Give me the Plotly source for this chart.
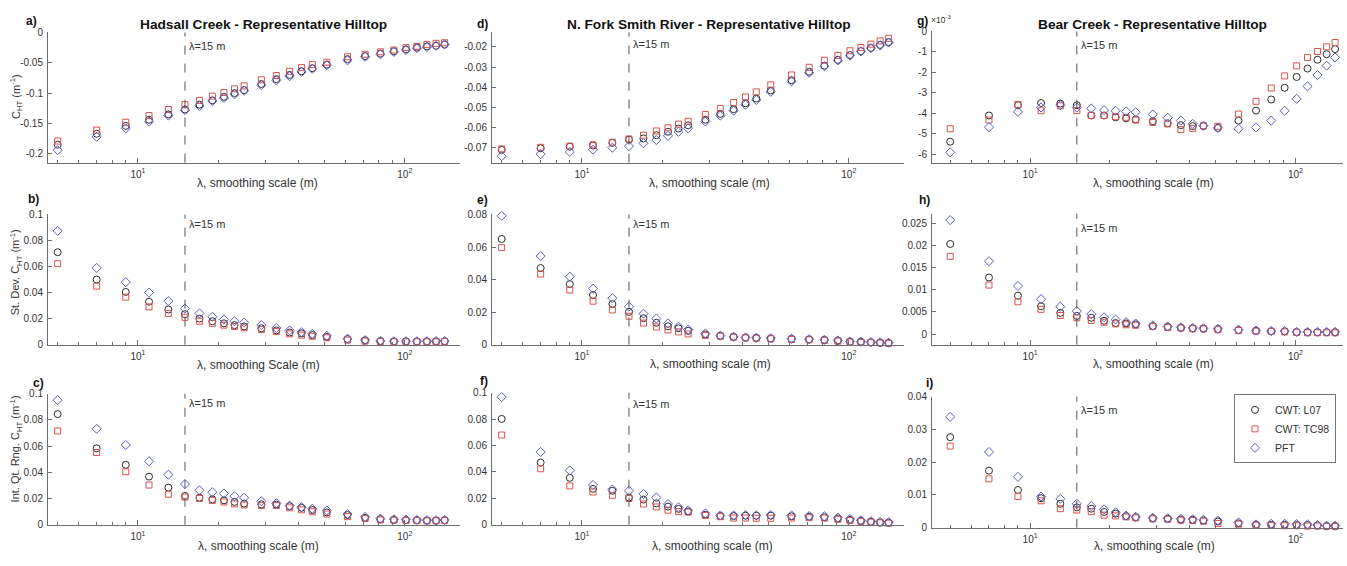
import math
import plotly.graph_objects as go

# ---------------- data ----------------
LAMBDA = [5, 7, 9, 11, 13, 15, 17, 19, 21, 23, 25, 29, 33, 37, 41, 45, 51, 61, 71, 81, 91, 101, 111, 121, 131, 141]
LAMBDA_CUT = 15
SERIES_NAMES = ["CWT: L07", "CWT: TC98", "PFT"]

# a) Hadsall Creek - mean C_HT
A_L07 = [-0.185, -0.167, -0.154, -0.144, -0.135, -0.127, -0.119, -0.112, -0.106, -0.100, -0.095, -0.085, -0.077, -0.070, -0.064, -0.059, -0.053, -0.044, -0.039, -0.035, -0.031, -0.028, -0.025, -0.023, -0.022, -0.020]
A_TC98 = [-0.179, -0.161, -0.148, -0.137, -0.127, -0.119, -0.112, -0.105, -0.099, -0.093, -0.088, -0.078, -0.071, -0.064, -0.058, -0.053, -0.049, -0.040, -0.036, -0.032, -0.029, -0.025, -0.023, -0.020, -0.018, -0.017]
A_PFT = [-0.194, -0.172, -0.158, -0.147, -0.137, -0.128, -0.121, -0.113, -0.108, -0.102, -0.096, -0.087, -0.079, -0.072, -0.065, -0.060, -0.054, -0.046, -0.040, -0.036, -0.032, -0.029, -0.026, -0.024, -0.022, -0.020]
# b) Hadsall Creek - st. dev.
B_L07 = [0.071, 0.050, 0.0405, 0.033, 0.027, 0.0234, 0.020, 0.018, 0.0164, 0.015, 0.014, 0.0126, 0.011, 0.0093, 0.0086, 0.0073, 0.006, 0.0043, 0.0033, 0.0028, 0.0025, 0.0025, 0.0025, 0.0025, 0.0025, 0.0026]
B_TC98 = [0.0622, 0.045, 0.0365, 0.029, 0.024, 0.021, 0.018, 0.0164, 0.015, 0.014, 0.013, 0.0116, 0.010, 0.0083, 0.0073, 0.0065, 0.0053, 0.0035, 0.0028, 0.0025, 0.0022, 0.0022, 0.0022, 0.0022, 0.0022, 0.0023]
B_PFT = [0.0874, 0.059, 0.048, 0.040, 0.0335, 0.0277, 0.024, 0.0214, 0.0194, 0.018, 0.017, 0.015, 0.0128, 0.011, 0.0096, 0.0083, 0.0068, 0.0045, 0.0035, 0.0028, 0.0026, 0.0026, 0.0026, 0.0026, 0.0027, 0.0028]
# c) Hadsall Creek - interquartile range
C_L07 = [0.0844, 0.0583, 0.0457, 0.0367, 0.0283, 0.022, 0.0206, 0.0194, 0.0186, 0.0174, 0.0161, 0.0156, 0.0154, 0.0141, 0.0129, 0.0112, 0.0094, 0.0074, 0.0052, 0.0042, 0.0037, 0.0035, 0.0035, 0.0032, 0.0032, 0.0035]
C_TC98 = [0.0715, 0.0551, 0.0404, 0.0303, 0.0233, 0.0211, 0.0201, 0.0186, 0.0174, 0.0159, 0.0151, 0.0146, 0.0146, 0.0129, 0.0114, 0.0099, 0.0082, 0.0062, 0.0047, 0.0037, 0.0035, 0.0032, 0.0032, 0.003, 0.003, 0.0032]
C_PFT = [0.095, 0.0732, 0.0608, 0.0484, 0.0382, 0.031, 0.0263, 0.0248, 0.0238, 0.0218, 0.0206, 0.0179, 0.0164, 0.0146, 0.0134, 0.0122, 0.0109, 0.0082, 0.006, 0.0047, 0.0042, 0.004, 0.0037, 0.0035, 0.0035, 0.0037]
# d) N. Fork Smith River - mean C_HT
D_L07 = [-0.0711, -0.0703, -0.0695, -0.0689, -0.0676, -0.066, -0.0654, -0.0638, -0.0621, -0.0605, -0.0589, -0.0561, -0.0532, -0.0509, -0.048, -0.0456, -0.0416, -0.0365, -0.0323, -0.0293, -0.0264, -0.024, -0.0221, -0.0205, -0.019, -0.0176]
D_TC98 = [-0.0706, -0.0698, -0.0692, -0.0686, -0.0673, -0.0657, -0.0638, -0.0617, -0.0601, -0.0583, -0.0569, -0.0535, -0.0505, -0.0476, -0.0448, -0.0423, -0.0388, -0.0339, -0.0301, -0.0266, -0.0242, -0.0219, -0.0203, -0.0186, -0.017, -0.0157]
D_PFT = [-0.0742, -0.0732, -0.0721, -0.071, -0.07, -0.0692, -0.0678, -0.0662, -0.0641, -0.0621, -0.0604, -0.057, -0.0541, -0.0516, -0.0487, -0.0463, -0.0423, -0.0371, -0.0328, -0.0296, -0.0267, -0.0243, -0.0222, -0.0206, -0.0192, -0.0178]
# e) N. Fork Smith River - st. dev.
E_L07 = [0.0651, 0.0472, 0.0373, 0.0306, 0.025, 0.0202, 0.0163, 0.0135, 0.0113, 0.0101, 0.0085, 0.0062, 0.0054, 0.0048, 0.0044, 0.0042, 0.0038, 0.0036, 0.0032, 0.003, 0.0026, 0.0018, 0.0018, 0.0014, 0.0012, 0.001]
E_TC98 = [0.0598, 0.0435, 0.0337, 0.0268, 0.0214, 0.0175, 0.0133, 0.0109, 0.0091, 0.0079, 0.0066, 0.0058, 0.0052, 0.0046, 0.0042, 0.004, 0.0036, 0.0032, 0.003, 0.0026, 0.0022, 0.0016, 0.0014, 0.0012, 0.001, 0.0008]
E_PFT = [0.0794, 0.0546, 0.0419, 0.0345, 0.0286, 0.0234, 0.0191, 0.0161, 0.0131, 0.0111, 0.0093, 0.0069, 0.0056, 0.0048, 0.0044, 0.0042, 0.004, 0.0036, 0.0034, 0.003, 0.0026, 0.002, 0.0018, 0.0016, 0.0014, 0.0012]
# f) N. Fork Smith River - interquartile range
F_L07 = [0.0801, 0.0471, 0.0355, 0.0272, 0.0257, 0.0206, 0.0191, 0.0162, 0.0137, 0.012, 0.010, 0.0076, 0.0066, 0.0066, 0.0069, 0.0069, 0.0069, 0.0064, 0.0061, 0.0056, 0.0047, 0.0037, 0.0029, 0.0022, 0.0017, 0.0015]
F_TC98 = [0.0679, 0.0424, 0.0294, 0.0248, 0.0223, 0.0199, 0.0157, 0.0135, 0.011, 0.010, 0.0096, 0.0071, 0.0061, 0.0051, 0.0051, 0.0049, 0.0049, 0.0051, 0.0054, 0.0051, 0.0042, 0.0032, 0.0025, 0.002, 0.0015, 0.0012]
F_PFT = [0.0966, 0.0551, 0.0412, 0.0301, 0.0267, 0.0257, 0.0233, 0.0206, 0.0157, 0.0132, 0.0108, 0.0086, 0.0071, 0.0071, 0.0074, 0.0071, 0.0074, 0.0071, 0.0066, 0.0064, 0.0054, 0.0044, 0.0034, 0.0027, 0.0022, 0.002]
# g) Bear Creek - mean C_HT
G_L07 = [-0.00538, -0.00410, -0.00360, -0.00349, -0.00352, -0.00360, -0.00410, -0.00410, -0.00419, -0.00424, -0.00429, -0.00438, -0.00448, -0.00457, -0.00462, -0.00462, -0.00471, -0.00435, -0.00386, -0.00332, -0.00275, -0.00222, -0.00181, -0.00138, -0.00111, -0.00086]
G_TC98 = [-0.00475, -0.00432, -0.00356, -0.00387, -0.00363, -0.00386, -0.00410, -0.00410, -0.00416, -0.00419, -0.00432, -0.00444, -0.00451, -0.00479, -0.00473, -0.00460, -0.00463, -0.00403, -0.00341, -0.00276, -0.00217, -0.00168, -0.00127, -0.00098, -0.00075, -0.00054]
G_PFT = [-0.00590, -0.00467, -0.00392, -0.00371, -0.00360, -0.00371, -0.00376, -0.00384, -0.00387, -0.00390, -0.00394, -0.00405, -0.00421, -0.00435, -0.00451, -0.00460, -0.00470, -0.00475, -0.00468, -0.00435, -0.00387, -0.00329, -0.00268, -0.00213, -0.00167, -0.00127]
# h) Bear Creek - st. dev.
H_L07 = [0.0204, 0.0128, 0.0087, 0.0063, 0.0048, 0.0041, 0.0037, 0.003, 0.0025, 0.0024, 0.0022, 0.0018, 0.0016, 0.0014, 0.0013, 0.0012, 0.0011, 0.0009, 0.0007, 0.0006, 0.0006, 0.0004, 0.0004, 0.0004, 0.0004, 0.0004]
H_TC98 = [0.0176, 0.0111, 0.0073, 0.0056, 0.0042, 0.0037, 0.0031, 0.0027, 0.0023, 0.0021, 0.002, 0.0017, 0.0015, 0.0014, 0.0012, 0.0012, 0.001, 0.0008, 0.0007, 0.0006, 0.0005, 0.0004, 0.0003, 0.0003, 0.0003, 0.0003]
H_PFT = [0.0258, 0.0165, 0.0109, 0.0079, 0.0062, 0.0052, 0.0045, 0.0038, 0.0033, 0.0027, 0.0024, 0.0019, 0.0017, 0.0015, 0.0014, 0.0013, 0.0012, 0.001, 0.0008, 0.0007, 0.0007, 0.0005, 0.0005, 0.0005, 0.0005, 0.0005]
# i) Bear Creek - interquartile range
I_L07 = [0.0276, 0.0174, 0.0115, 0.009, 0.0073, 0.0062, 0.0058, 0.0048, 0.0043, 0.0035, 0.0032, 0.0029, 0.0027, 0.0025, 0.0024, 0.0022, 0.0019, 0.0013, 0.0009, 0.0009, 0.0009, 0.0008, 0.0008, 0.0007, 0.0005, 0.0005]
I_TC98 = [0.0249, 0.0149, 0.0095, 0.0082, 0.0058, 0.0054, 0.0049, 0.0038, 0.0036, 0.0033, 0.003, 0.0027, 0.0026, 0.0023, 0.0022, 0.002, 0.0013, 0.0011, 0.0008, 0.0007, 0.0006, 0.0006, 0.0005, 0.0005, 0.0004, 0.0004]
I_PFT = [0.0338, 0.0231, 0.0155, 0.0095, 0.0088, 0.0073, 0.0066, 0.0056, 0.0047, 0.0037, 0.0033, 0.003, 0.0029, 0.0027, 0.0026, 0.0024, 0.0022, 0.0016, 0.001, 0.0012, 0.0012, 0.0011, 0.001, 0.0008, 0.0006, 0.0006]

TITLES = ["Hadsall Creek - Representative Hilltop",
          "N. Fork Smith River - Representative Hilltop",
          "Bear Creek - Representative Hilltop"]
YTITLES = ["C<sub>HT</sub> (m<sup>-1</sup>)",
           "St. Dev. C<sub>HT</sub> (m<sup>-1</sup>)",
           "Int. Qt. Rng. C<sub>HT</sub> (m<sup>-1</sup>)"]

# ---------------- layout helpers ----------------
W, H = 1347, 566
FONT = "Liberation Sans, Arial, Helvetica, sans-serif"
AX = "#6e6e6e"
TXT = "#333333"


def px(x):
    return x / W


def py(y):
    return 1 - y / H


COLORS = ["#2b2b2b", "#d9534f", "#5b5bc8"]
SYMBOLS = ["circle-open", "square-open", "diamond-open"]
SIZES = [7, 6, 7]

panels = [
    dict(letter="a)", data=(A_L07, A_TC98, A_PFT), col=0, ydom=(27, 160), yr=[-0.2145, 0],
         tv=[-0.2, -0.15, -0.1, -0.05, 0], tt=["-0.2", "-0.15", "-0.1", "-0.05", "0"],
         xt="λ, smoothing scale (m)", lp=(31, 15), lab=41, xtp=(257, 181)),
    dict(letter="b)", data=(B_L07, B_TC98, B_PFT), col=0, ydom=(213, 346), yr=[0, 0.1],
         tv=[0, 0.02, 0.04, 0.06, 0.08, 0.1], tt=["0", "0.02", "0.04", "0.06", "0.08", "0.1"],
         xt="λ, smoothing Scale (m)", lp=(33, 197), lab=223, xtp=(258, 367)),
    dict(letter="c)", data=(C_L07, C_TC98, C_PFT), col=0, ydom=(396, 530), yr=[0, 0.1],
         tv=[0, 0.02, 0.04, 0.06, 0.08, 0.1], tt=["0", "0.02", "0.04", "0.06", "0.08", "0.1"],
         xt="λ, smoothing scale (m)", lp=(38, 385), lab=406, xtp=(258, 552)),
    dict(letter="d)", data=(D_L07, D_TC98, D_PFT), col=1, ydom=(27, 160), yr=[-0.0774, -0.0128],
         tv=[-0.07, -0.06, -0.05, -0.04, -0.03, -0.02], tt=["-0.07", "-0.06", "-0.05", "-0.04", "-0.03", "-0.02"],
         xt="λ, smoothing scale (m)", lp=(482, 18), lab=39, xtp=(709, 181)),
    dict(letter="e)", data=(E_L07, E_TC98, E_PFT), col=1, ydom=(213, 346), yr=[0, 0.0802],
         tv=[0, 0.02, 0.04, 0.06, 0.08], tt=["0", "0.02", "0.04", "0.06", "0.08"],
         xt="λ, smoothing scale (m)", lp=(482, 198), lab=223, xtp=(711, 366)),
    dict(letter="f)", data=(F_L07, F_TC98, F_PFT), col=1, ydom=(395, 530), yr=[0, 0.1],
         tv=[0, 0.02, 0.04, 0.06, 0.08, 0.1], tt=["0", "0.02", "0.04", "0.06", "0.08", "0.1"],
         xt="λ, smoothing scale (m)", lp=(484, 383), lab=407, xtp=(712, 552)),
    dict(letter="g)", data=(G_L07, G_TC98, G_PFT), col=2, ydom=(26, 160), yr=[-0.0064, 0],
         tv=[-0.006, -0.005, -0.004, -0.003, -0.002, -0.001, 0], tt=["-6", "-5", "-4", "-3", "-2", "-1", "0"],
         xt="λ, smoothing scale (m)", lp=(922, 15), lab=40, xtp=(1153, 181)),
    dict(letter="h)", data=(H_L07, H_TC98, H_PFT), col=2, ydom=(212, 346), yr=[-0.0024, 0.0273],
         tv=[0, 0.005, 0.01, 0.015, 0.02, 0.025], tt=["0", "0.005", "0.01", "0.015", "0.02", "0.025"],
         xt="λ, smoothing scale (m)", lp=(924, 198), lab=227, xtp=(1153, 366)),
    dict(letter="i)", data=(I_L07, I_TC98, I_PFT), col=2, ydom=(399, 533), yr=[0, 0.04],
         tv=[0, 0.01, 0.02, 0.03, 0.04], tt=["0", "0.01", "0.02", "0.03", "0.04"],
         xt="λ, smoothing scale (m)", lp=(929, 385), lab=413, xtp=(1154, 552)),
]

XDOM = [(48, 460), (492, 904), (932, 1343)]
XRANGE = [(4.6, 161), (4.6, 161), (4.27, 151)]
TITLE_X = [263, 709, 1152]
MINOR = [5, 6, 7, 8, 9, 20, 30, 40, 50, 60, 70, 80, 90]

fig = go.Figure()
layout = dict(width=W, height=H, margin=dict(l=0, r=0, t=0, b=0),
              paper_bgcolor="white", plot_bgcolor="white",
              font=dict(family=FONT, color=TXT, size=10),
              showlegend=True)
annotations = []
shapes = []

for k, p in enumerate(panels, start=1):
    xa = "x" if k == 1 else f"x{k}"
    ya = "y" if k == 1 else f"y{k}"
    c = p["col"]
    for s in range(3):
        fig.add_trace(go.Scatter(
            x=LAMBDA, y=p["data"][s], mode="markers", name=SERIES_NAMES[s],
            xaxis=xa, yaxis=ya, showlegend=(k == 9),
            marker=dict(symbol=SYMBOLS[s], size=SIZES[s], color=COLORS[s],
                        line=dict(width=1, color=COLORS[s])),
            cliponaxis=False))
    xr = XRANGE[c]
    layout[f"xaxis{k}" if k > 1 else "xaxis"] = dict(
        domain=[px(XDOM[c][0]), px(XDOM[c][1])], anchor=ya, type="log",
        range=[math.log10(xr[0]), math.log10(xr[1])],
        tickmode="array", tickvals=[10, 100], ticktext=["10<sup>1</sup>", "10<sup>2</sup>"],
        ticks="inside", ticklen=5, tickcolor=AX, tickwidth=1,
        minor=dict(tickmode="array", tickvals=MINOR, ticks="inside", ticklen=3, tickcolor=AX, tickwidth=1),
        showline=True, linecolor=AX, linewidth=1, mirror=False,
        showgrid=False, zeroline=False, tickfont=dict(size=10, color=TXT),
        ticklabelstandoff=2)
    layout[f"yaxis{k}" if k > 1 else "yaxis"] = dict(
        domain=[py(p["ydom"][1]), py(p["ydom"][0])], anchor=xa,
        range=p["yr"], tickmode="array", tickvals=p["tv"], ticktext=p["tt"],
        ticks="inside", ticklen=4, tickcolor=AX, tickwidth=1,
        showline=True, linecolor=AX, linewidth=1, mirror=False,
        showgrid=False, zeroline=False, tickfont=dict(size=10, color=TXT),
        ticklabelstandoff=2)
    shapes.append(dict(type="line", xref=xa, x0=LAMBDA_CUT, x1=LAMBDA_CUT,
                       yref=f"{ya} domain", y0=0, y1=1,
                       line=dict(color="#555555", width=1, dash="dash")))
    annotations.append(dict(xref=xa, x=math.log10(LAMBDA_CUT), xanchor="left", xshift=2,
                            yref="paper", y=py(p["lab"]), yanchor="middle",
                            text=f"λ={LAMBDA_CUT} m", showarrow=False,
                            font=dict(size=11, color=TXT)))
    annotations.append(dict(xref="paper", yref="paper", x=px(p["lp"][0]), y=py(p["lp"][1]),
                            xanchor="center", yanchor="middle", text=f"<b>{p['letter']}</b>",
                            showarrow=False, font=dict(size=12, color="#111111")))
    annotations.append(dict(xref="paper", yref="paper", x=px(p["xtp"][0]), y=py(p["xtp"][1]),
                            xanchor="center", yanchor="middle", text=p["xt"],
                            showarrow=False, font=dict(size=12, color=TXT)))

for c in range(3):
    annotations.append(dict(xref="paper", yref="paper", x=px(TITLE_X[c]), y=py(19),
                            xanchor="center", yanchor="middle", text=f"<b>{TITLES[c]}</b>",
                            showarrow=False, font=dict(size=13.7, color="#111111")))

for r, yc in enumerate([93, 272, 453]):
    annotations.append(dict(xref="paper", yref="paper", x=px(16), y=py(yc),
                            xanchor="center", yanchor="middle", text=YTITLES[r], textangle=-90,
                            showarrow=False, font=dict(size=11, color=TXT)))

annotations.append(dict(xref="paper", yref="paper", x=px(929), y=py(14),
                        xanchor="left", yanchor="middle", text="×10<sup>-3</sup>",
                        showarrow=False, font=dict(size=8.5, color=TXT)))

layout["annotations"] = annotations
layout["shapes"] = shapes
layout["legend"] = dict(x=px(1234), y=py(432), xanchor="left", yanchor="middle",
                        bgcolor="white", bordercolor="#777777", borderwidth=1,
                        font=dict(size=10.5, color=TXT), tracegroupgap=0,
                        itemwidth=30)
fig.update_layout(**layout)
fig.write_html("out.html",
               config={"displayModeBar": False, "staticPlot": True},
               post_script="document.body.style.margin='0px';document.body.style.overflow='hidden';")
